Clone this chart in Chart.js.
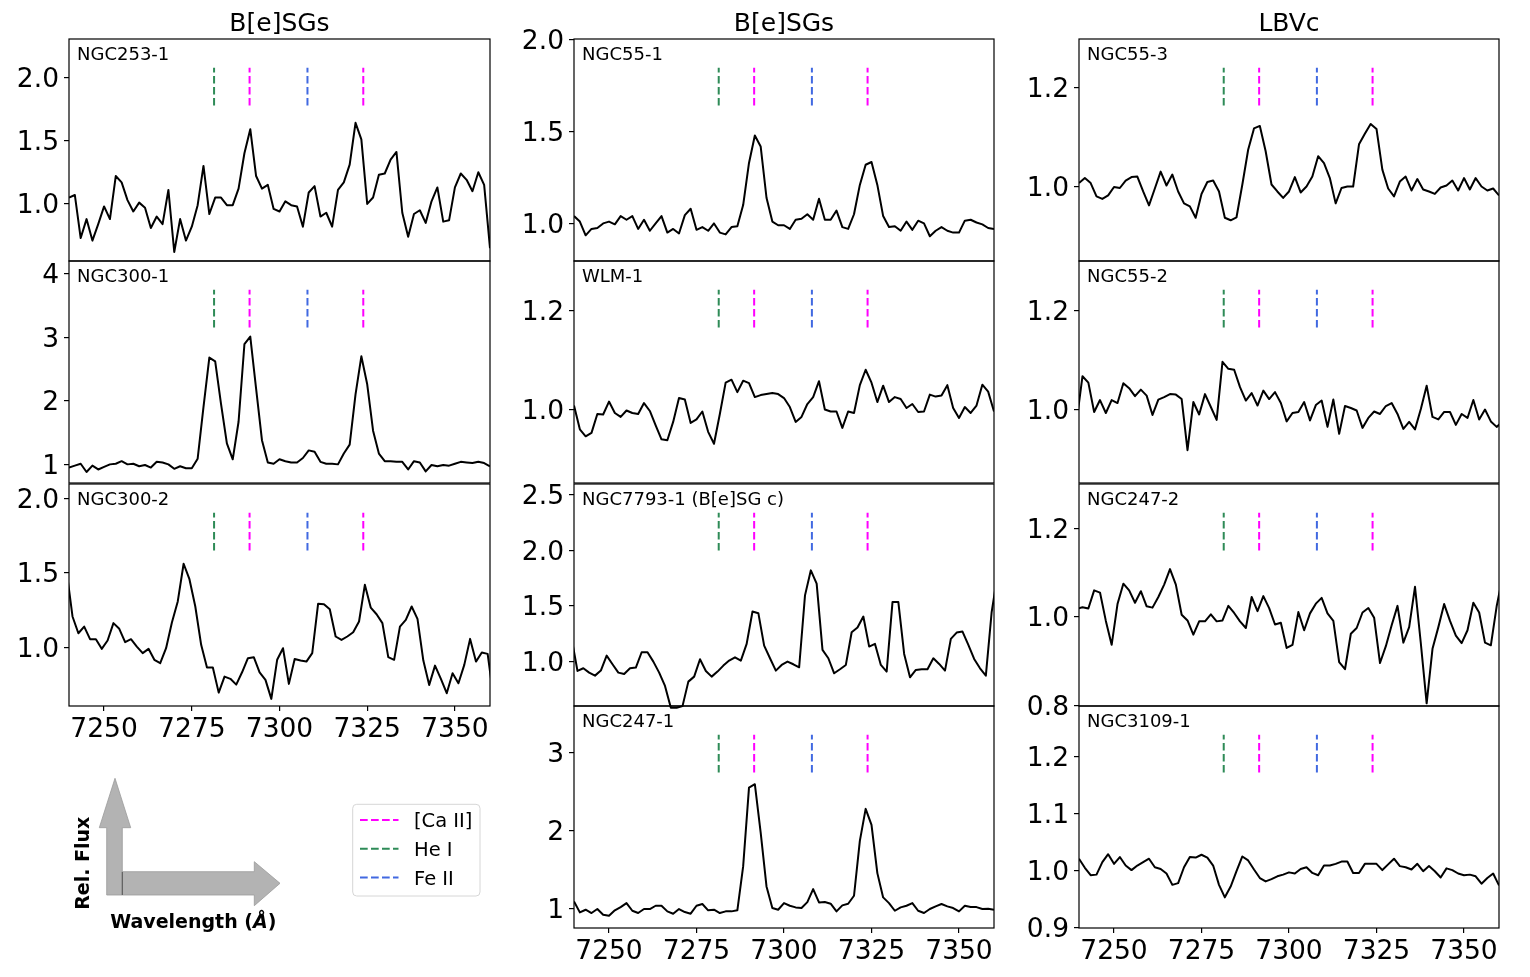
<!DOCTYPE html>
<html><head><meta charset="utf-8">
<script src="https://cdn.jsdelivr.net/npm/chart.js@4.4.1/dist/chart.umd.min.js"></script>
<style>
html,body{margin:0;padding:0;background:#fff;}
body{width:1530px;height:977px;overflow:hidden;position:relative;font-family:'DejaVu Sans',sans-serif;color:#000;}
canvas.panel{position:absolute;}
.title{position:absolute;font-size:25px;line-height:1;white-space:nowrap;transform:translateX(-50%);}
.lab{position:absolute;font-size:18px;line-height:1;white-space:nowrap;}
svg.overlay{position:absolute;left:0;top:0;}
</style>
</head><body>
<script>
// ---------------- DATA ----------------
const X_TICKS = [7250, 7275, 7300, 7325, 7350];
const X_MIN = 7240, X_MAX = 7360;

// Wavelength grid A (first/last samples on the axis limits)
const WAVE_A = [7240.00,7241.67,7243.33,7245.00,7246.67,7248.33,7250.00,7251.67,7253.33,7255.00,
7256.67,7258.33,7260.00,7261.67,7263.33,7265.00,7266.67,7268.33,7270.00,7271.67,
7273.33,7275.00,7276.67,7278.33,7280.00,7281.67,7283.33,7285.00,7286.67,7288.33,
7290.00,7291.67,7293.33,7295.00,7296.67,7298.33,7300.00,7301.67,7303.33,7305.00,
7306.67,7308.33,7310.00,7311.67,7313.33,7315.00,7316.67,7318.33,7320.00,7321.67,
7323.33,7325.00,7326.67,7328.33,7330.00,7331.67,7333.33,7335.00,7336.67,7338.33,
7340.00,7341.67,7343.33,7345.00,7346.67,7348.33,7350.00,7351.67,7353.33,7355.00,
7356.67,7358.33,7360.00];
// Wavelength grid B (shifted sampling, one sample beyond each axis limit)
const WAVE_B = [7239.33,7241.00,7242.67,7244.33,7246.00,7247.67,7249.33,7251.00,7252.67,7254.33,
7256.00,7257.67,7259.33,7261.00,7262.67,7264.33,7266.00,7267.67,7269.33,7271.00,
7272.67,7274.33,7276.00,7277.67,7279.33,7281.00,7282.67,7284.33,7286.00,7287.67,
7289.33,7291.00,7292.67,7294.33,7296.00,7297.67,7299.33,7301.00,7302.67,7304.33,
7306.00,7307.67,7309.33,7311.00,7312.67,7314.33,7316.00,7317.67,7319.33,7321.00,
7322.67,7324.33,7326.00,7327.67,7329.33,7331.00,7332.67,7334.33,7336.00,7337.67,
7339.33,7341.00,7342.67,7344.33,7346.00,7347.67,7349.33,7351.00,7352.67,7354.33,
7356.00,7357.67,7359.33,7361.00];

const FLUX_NGC253_1 = [1.05,1.07,0.73,0.88,0.71,0.84,0.98,0.88,1.22,1.17,
1.03,0.94,1.01,0.97,0.81,0.90,0.84,1.11,0.62,0.88,
0.71,0.82,0.99,1.30,0.92,1.05,1.05,0.99,0.99,1.12,
1.40,1.59,1.22,1.12,1.15,0.96,0.94,1.02,0.99,0.98,
0.82,1.09,1.14,0.90,0.93,0.82,1.11,1.17,1.31,1.64,
1.51,1.00,1.05,1.23,1.24,1.35,1.41,0.93,0.74,0.92,
0.95,0.85,1.02,1.13,0.86,0.87,1.13,1.24,1.19,1.10,
1.25,1.15,0.65];
const FLUX_NGC300_1 = [0.95,0.98,1.01,0.88,0.98,0.92,0.96,1.00,1.01,1.05,
1.00,1.01,0.97,0.99,0.95,1.04,1.03,1.00,0.93,0.97,
0.94,0.94,1.09,1.90,2.68,2.62,1.95,1.33,1.08,1.67,
2.89,3.01,2.19,1.38,1.03,1.01,1.08,1.05,1.03,1.03,
1.10,1.22,1.20,1.04,1.01,1.01,1.00,1.17,1.31,2.10,
2.70,2.26,1.53,1.17,1.05,1.05,1.04,1.04,0.92,1.05,
1.03,0.89,0.99,0.97,0.99,0.98,1.01,1.04,1.03,1.02,
1.04,1.02,0.97];
const FLUX_NGC300_2 = [1.51,
1.207,1.094,1.139,1.054,1.054,0.989,1.045,1.162,1.124,1.034,
1.054,1.004,0.960,0.989,0.915,0.892,0.993,1.166,1.308,1.562,
1.458,1.274,1.016,0.863,0.863,0.694,0.802,0.787,0.748,0.831,
0.926,0.933,0.831,0.780,0.652,0.915,0.993,0.753,0.921,0.910,
0.903,0.960,1.292,1.290,1.256,1.072,1.049,1.072,1.101,1.173,
1.420,1.267,1.222,1.162,0.933,0.915,1.139,1.184,1.274,1.191,
0.910,0.746,0.876,0.787,0.690,0.825,0.757,0.881,1.056,0.903,
0.964,0.955,
0.66];
const FLUX_NGC55_1 = [1.04,1.01,0.935,0.97,0.975,1.00,1.01,0.995,1.04,1.02,
1.04,0.97,1.02,0.96,1.00,1.04,0.95,0.97,0.945,1.045,
1.08,0.965,0.98,0.96,1.00,0.95,0.94,0.98,0.985,1.10,
1.33,1.48,1.42,1.14,1.01,0.99,0.99,0.97,1.02,1.025,
1.05,1.02,1.135,1.02,1.02,1.07,0.98,0.97,1.05,1.21,
1.32,1.335,1.21,1.04,0.98,0.985,0.96,1.01,0.965,1.015,
1.00,0.93,0.96,0.98,0.96,0.95,0.95,1.015,1.02,1.005,
0.995,0.975,0.97];
const FLUX_WLM_1 = [1.008,0.960,0.946,0.953,0.991,0.990,1.016,0.993,0.985,0.998,
0.993,0.991,1.013,0.997,0.968,0.940,0.938,0.975,1.023,1.020,
0.973,0.980,0.996,0.955,0.931,0.991,1.054,1.060,1.035,1.058,
1.053,1.025,1.029,1.031,1.033,1.031,1.023,1.005,0.975,0.985,
1.011,1.025,1.057,1.000,0.996,0.996,0.963,0.996,0.993,1.049,
1.080,1.054,1.015,1.048,1.015,1.025,1.021,1.003,1.011,0.995,
0.996,1.030,1.026,1.028,1.049,1.003,0.983,1.005,0.993,1.008,
1.050,1.036,0.996];
const FLUX_NGC7793_1 = [1.206,
0.916,0.940,0.901,0.874,0.919,1.054,0.976,0.901,0.889,0.940,
0.946,1.084,1.084,1.000,0.901,0.781,0.585,0.585,0.600,0.820,
0.865,1.021,0.916,0.865,0.910,0.964,1.009,1.039,1.009,1.159,
1.450,1.435,1.144,1.030,0.919,0.970,1.000,0.976,0.949,1.595,
1.820,1.700,1.105,1.030,0.895,0.931,0.970,1.264,1.306,1.405,
1.135,1.159,0.970,0.910,1.535,1.535,1.069,0.859,0.925,0.931,
0.931,1.030,0.979,0.919,1.204,1.261,1.270,1.150,1.024,0.940,
0.874,1.444,
1.78];
const FLUX_NGC247_1 = [1.094,0.953,0.987,0.945,0.996,0.923,0.910,0.979,1.021,1.072,
0.974,0.945,0.996,0.996,1.038,1.038,0.966,0.936,0.996,0.957,
0.936,1.038,1.060,0.979,0.987,0.945,0.966,0.966,0.979,1.542,
2.552,2.595,1.977,1.286,1.009,0.987,1.072,1.038,1.017,1.009,
1.085,1.252,1.081,1.085,1.064,0.966,1.043,1.064,1.166,1.870,
2.279,2.075,1.456,1.145,1.072,0.974,1.017,1.038,1.072,0.974,
0.945,0.996,1.030,1.060,1.030,1.009,0.966,1.038,1.021,1.021,
0.996,1.000,0.987];
const FLUX_NGC55_3 = [1.008,1.018,1.008,0.981,0.976,0.983,1.000,0.998,1.013,1.020,
1.021,0.991,0.963,0.997,1.031,1.003,1.025,0.991,0.967,0.961,
0.938,0.986,1.010,1.013,0.991,0.938,0.933,0.939,1.005,1.075,
1.118,1.123,1.072,1.005,0.991,0.978,0.991,1.020,0.989,1.001,
1.021,1.062,1.048,1.018,0.967,0.998,1.001,1.001,1.086,1.107,
1.127,1.117,1.035,0.997,0.981,1.011,1.021,0.993,1.016,0.995,
0.991,0.986,0.999,1.003,1.013,0.993,1.018,0.995,1.018,1.001,
0.993,0.997,0.983];
const FLUX_NGC55_2 = [0.977,
1.067,1.054,0.995,1.019,0.993,1.019,1.013,1.053,1.043,1.027,
1.040,1.028,0.989,1.020,1.025,1.031,1.030,1.021,0.918,1.015,
0.990,1.031,1.005,0.979,1.096,1.082,1.080,1.045,1.018,1.033,
1.008,1.038,1.021,1.035,1.013,0.976,0.993,0.995,1.015,0.978,
1.009,1.018,0.965,1.020,0.951,1.007,1.003,0.998,0.963,0.983,
0.996,0.991,1.007,1.013,0.991,0.961,0.975,0.960,1.001,1.048,
0.985,0.980,0.995,0.995,0.969,0.991,0.983,1.019,0.980,1.000,
0.976,0.965,
0.975];
const FLUX_NGC247_2 = [1.018,
1.022,1.019,1.060,1.055,0.991,0.937,1.029,1.075,1.060,1.032,
1.058,1.024,1.021,1.045,1.073,1.108,1.073,1.005,0.992,0.960,
0.990,0.990,1.006,0.990,0.992,1.025,1.009,0.990,0.975,1.045,
1.013,1.047,1.020,0.983,0.987,0.930,0.937,1.011,0.970,1.008,
1.030,1.043,1.008,0.991,0.898,0.882,0.962,0.975,1.010,1.020,
0.998,0.896,0.934,0.981,1.025,0.942,0.977,1.068,0.940,0.805,
0.928,0.977,1.029,0.991,0.958,0.941,0.970,1.032,1.010,0.942,
0.936,1.024,
1.09];
const FLUX_NGC3109_1 = [1.021,1.005,0.992,0.993,1.015,1.029,1.012,1.024,1.009,1.001,
1.009,1.015,1.021,1.006,1.003,0.995,0.975,0.978,1.006,1.024,
1.023,1.028,1.023,1.009,0.975,0.953,0.972,0.999,1.025,1.018,
1.002,0.987,0.981,0.985,0.990,0.993,0.997,0.995,1.003,1.006,
0.996,0.992,1.009,1.009,1.012,1.016,1.016,0.996,0.996,1.012,
1.012,1.012,1.001,1.011,1.021,1.008,1.006,1.002,1.012,0.999,
1.008,0.999,0.988,1.004,1.001,0.995,0.992,0.993,0.990,0.977,
0.987,0.995,0.974];

// y tick values and labels per panel
const YT_NGC253_1 = [1.0, 1.5, 2.0];      const YL_NGC253_1 = ['1.0','1.5','2.0'];
const YT_NGC300_1 = [1, 2, 3, 4];         const YL_NGC300_1 = ['1','2','3','4'];
const YT_NGC300_2 = [1.0, 1.5, 2.0];      const YL_NGC300_2 = ['1.0','1.5','2.0'];
const YT_NGC55_1  = [1.0, 1.5, 2.0];      const YL_NGC55_1  = ['1.0','1.5','2.0'];
const YT_WLM_1    = [1.0, 1.2];           const YL_WLM_1    = ['1.0','1.2'];
const YT_NGC7793_1= [1.0, 1.5, 2.0, 2.5]; const YL_NGC7793_1= ['1.0','1.5','2.0','2.5'];
const YT_NGC247_1 = [1, 2, 3];            const YL_NGC247_1 = ['1','2','3'];
const YT_NGC55_3  = [1.0, 1.2];           const YL_NGC55_3  = ['1.0','1.2'];
const YT_NGC55_2  = [1.0, 1.2];           const YL_NGC55_2  = ['1.0','1.2'];
const YT_NGC247_2 = [0.8, 1.0, 1.2];      const YL_NGC247_2 = ['0.8','1.0','1.2'];
const YT_NGC3109_1= [0.9, 1.0, 1.1, 1.2]; const YL_NGC3109_1= ['0.9','1.0','1.1','1.2'];

// y-axis limits per panel
const YLIM_NGC253_1 = [0.549, 2.302];
const YLIM_NGC300_1 = [0.707, 4.199];
const YLIM_NGC300_2 = [0.604, 2.099];
const YLIM_NGC55_1  = [0.795, 2.006];
const YLIM_WLM_1    = [0.852, 1.299];
const YLIM_NGC7793_1= [0.601, 2.596];
const YLIM_NGC247_1 = [0.753, 3.597];
const YLIM_NGC55_3  = [0.851, 1.298];
const YLIM_NGC55_2  = [0.852, 1.299];
const YLIM_NGC247_2 = [0.799, 1.300];
const YLIM_NGC3109_1= [0.899, 1.290];

// emission line markers
const LINE_NAMES  = ['He I', '[Ca II]', 'Fe II', '[Ca II]'];
const LINE_WAVES  = [7281.35, 7291.47, 7307.97, 7323.88];
const LINE_COLORS = ['#2e8b57', '#ff00ff', '#4169e1', '#ff00ff'];
const LINE_FRAC   = [0.70, 0.87];   // marker extent as fraction of axis height

const COLUMN_TITLES = ['B[e]SGs', 'B[e]SGs', 'LBVc'];

// ---------------- LAYOUT ----------------
const COL_LEFT = [69, 574, 1079];
const COL_W = [421, 420, 420];
const ROW_TOP = [39, 261, 484, 706];
const ROW_H = 222;
const PAD_L = 10, AXIS_W = 70, PAD_T = 22, PAD_R = 20, PAD_B = 22, XAXIS_H = 46;
const TICK_FONT = 26.5;

const PANELS = [
  {name:'NGC253-1', col:0,row:0, wave:WAVE_A, flux:FLUX_NGC253_1, ylim:YLIM_NGC253_1, yt:YT_NGC253_1, yl:YL_NGC253_1, xlab:false},
  {name:'NGC300-1', col:0,row:1, wave:WAVE_A, flux:FLUX_NGC300_1, ylim:YLIM_NGC300_1, yt:YT_NGC300_1, yl:YL_NGC300_1, xlab:false},
  {name:'NGC300-2', col:0,row:2, wave:WAVE_B, flux:FLUX_NGC300_2, ylim:YLIM_NGC300_2, yt:YT_NGC300_2, yl:YL_NGC300_2, xlab:true},
  {name:'NGC55-1', col:1,row:0, wave:WAVE_A, flux:FLUX_NGC55_1, ylim:YLIM_NGC55_1, yt:YT_NGC55_1, yl:YL_NGC55_1, xlab:false},
  {name:'WLM-1', col:1,row:1, wave:WAVE_A, flux:FLUX_WLM_1, ylim:YLIM_WLM_1, yt:YT_WLM_1, yl:YL_WLM_1, xlab:false},
  {name:'NGC7793-1 (B[e]SG c)', col:1,row:2, wave:WAVE_B, flux:FLUX_NGC7793_1, ylim:YLIM_NGC7793_1, yt:YT_NGC7793_1, yl:YL_NGC7793_1, xlab:false},
  {name:'NGC247-1', col:1,row:3, wave:WAVE_A, flux:FLUX_NGC247_1, ylim:YLIM_NGC247_1, yt:YT_NGC247_1, yl:YL_NGC247_1, xlab:true},
  {name:'NGC55-3', col:2,row:0, wave:WAVE_A, flux:FLUX_NGC55_3, ylim:YLIM_NGC55_3, yt:YT_NGC55_3, yl:YL_NGC55_3, xlab:false},
  {name:'NGC55-2', col:2,row:1, wave:WAVE_B, flux:FLUX_NGC55_2, ylim:YLIM_NGC55_2, yt:YT_NGC55_2, yl:YL_NGC55_2, xlab:false},
  {name:'NGC247-2', col:2,row:2, wave:WAVE_B, flux:FLUX_NGC247_2, ylim:YLIM_NGC247_2, yt:YT_NGC247_2, yl:YL_NGC247_2, xlab:false},
  {name:'NGC3109-1', col:2,row:3, wave:WAVE_A, flux:FLUX_NGC3109_1, ylim:YLIM_NGC3109_1, yt:YT_NGC3109_1, yl:YL_NGC3109_1, xlab:true},
];

const FONT = "'DejaVu Sans', sans-serif";

const framePlugin = {
  id: 'frame',
  afterDraw(chart) {
    const {ctx, chartArea: a} = chart;
    ctx.save();
    ctx.strokeStyle = '#000';
    ctx.lineWidth = 1.2;
    ctx.strokeRect(a.left, a.top, a.right - a.left, a.bottom - a.top);
    ctx.restore();
  }
};

function makePanel(p) {
  const cv = document.createElement('canvas');
  cv.className = 'panel';
  const w = PAD_L + AXIS_W + COL_W[p.col] + PAD_R;
  const h = PAD_T + ROW_H + (p.xlab ? XAXIS_H : 0) + PAD_B;
  cv.width = w; cv.height = h;
  cv.style.width = w + 'px'; cv.style.height = h + 'px';
  cv.style.left = (COL_LEFT[p.col] - PAD_L - AXIS_W) + 'px';
  cv.style.top = (ROW_TOP[p.row] - PAD_T) + 'px';
  document.body.appendChild(cv);

  const [ymin, ymax] = p.ylim;
  const datasets = [{
    data: p.wave.map((x, i) => ({x: x, y: p.flux[i]})),
    borderColor: '#000', borderWidth: 2, pointRadius: 0, tension: 0,
    borderJoinStyle: 'round', fill: false,
    clip: {left: 0, right: 0, top: 0, bottom: 3}
  }];
  LINE_WAVES.forEach((lw, k) => {
    datasets.push({
      data: [{x: lw, y: ymin + LINE_FRAC[0] * (ymax - ymin)}, {x: lw, y: ymin + LINE_FRAC[1] * (ymax - ymin)}],
      borderColor: LINE_COLORS[k], borderWidth: 2, borderDash: [7.7, 3.3],
      pointRadius: 0, fill: false
    });
  });

  new Chart(cv.getContext('2d'), {
    type: 'line',
    data: {datasets},
    options: {
      responsive: false, animation: false, devicePixelRatio: 1,
      layout: {padding: {left: PAD_L, top: PAD_T, right: PAD_R, bottom: PAD_B}},
      plugins: {legend: {display: false}, tooltip: {enabled: false}, title: {display: false}},
      events: [],
      scales: {
        x: {
          type: 'linear', min: X_MIN, max: X_MAX, display: p.xlab,
          afterBuildTicks: s => { s.ticks = X_TICKS.map(v => ({value: v})); },
          afterFit: s => { s.height = p.xlab ? XAXIS_H : 0; s.paddingLeft = 0; s.paddingRight = 0; },
          grid: {drawOnChartArea: false, drawTicks: true, tickLength: 5, color: '#000', lineWidth: 1.2},
          border: {display: false},
          ticks: {font: {family: FONT, size: TICK_FONT}, color: '#000', padding: 3, maxRotation: 0, autoSkip: false,
                  callback: v => String(v)}
        },
        y: {
          type: 'linear', min: ymin, max: ymax,
          afterBuildTicks: s => { s.ticks = p.yt.map(v => ({value: v})); },
          afterFit: s => { s.width = AXIS_W; s.paddingTop = 0; s.paddingBottom = 0; },
          grid: {drawOnChartArea: false, drawTicks: true, tickLength: 5, color: '#000', lineWidth: 1.2},
          border: {display: false},
          ticks: {font: {family: FONT, size: TICK_FONT}, color: '#000', padding: 5, autoSkip: false,
                  labelOffset: 2.5, callback: (v, i) => p.yl[i]}
        }
      }
    },
    plugins: [framePlugin]
  });

  const lab = document.createElement('div');
  lab.className = 'lab';
  lab.textContent = p.name;
  lab.style.left = (COL_LEFT[p.col] + 8) + 'px';
  lab.style.top = (ROW_TOP[p.row] + 6) + 'px';
  document.body.appendChild(lab);
}

PANELS.forEach(makePanel);

COLUMN_TITLES.forEach((t, c) => {
  const d = document.createElement('div');
  d.className = 'title';
  d.textContent = t;
  d.style.left = (COL_LEFT[c] + COL_W[c] / 2) + 'px';
  d.style.top = '10px';
  document.body.appendChild(d);
});

// legend + axis-direction arrows
const LEGEND_ORDER = [1, 0, 2];   // [Ca II], He I, Fe II
const legendRows = LEGEND_ORDER.map((k, r) => {
  const y = 820 + r * 28.8;
  return `<line x1="360" y1="${y}" x2="398.5" y2="${y}" stroke="${LINE_COLORS[k]}" stroke-width="2" stroke-dasharray="7.7 3.3"/>` +
         `<text x="414" y="${y + 7}" font-size="19.5" font-family="DejaVu Sans">${LINE_NAMES[k]}</text>`;
}).join('');

const svg = `<svg class="overlay" width="1530" height="977" xmlns="http://www.w3.org/2000/svg">
  <polygon points="106.7,895 106.7,827.7 99.3,827.7 115,778.3 130.7,827.7 122.3,827.7 122.3,895" fill="#b3b3b3" stroke="#9a9a9a" stroke-width="0.8"/>
  <polygon points="122.3,871.7 254.3,871.7 254.3,861.7 280,883.3 254.3,905.7 254.3,895 122.3,895" fill="#b3b3b3" stroke="#9a9a9a" stroke-width="0.8"/>
  <line x1="122.3" y1="872" x2="122.3" y2="895" stroke="#555" stroke-width="1"/>
  <text transform="translate(89,863.3) rotate(-90)" text-anchor="middle" font-size="19" font-weight="bold" font-family="DejaVu Sans">Rel. Flux</text>
  <text x="193.3" y="928" text-anchor="middle" font-size="19" font-weight="bold" font-family="DejaVu Sans">Wavelength (<tspan font-style="italic">Å</tspan>)</text>
  <rect x="352.7" y="804.3" width="127.3" height="91.7" rx="4" ry="4" fill="#fff" stroke="#d6d6d6" stroke-width="1"/>
  ${legendRows}
</svg>`;
document.body.insertAdjacentHTML('beforeend', svg);
</script>
</body></html>
